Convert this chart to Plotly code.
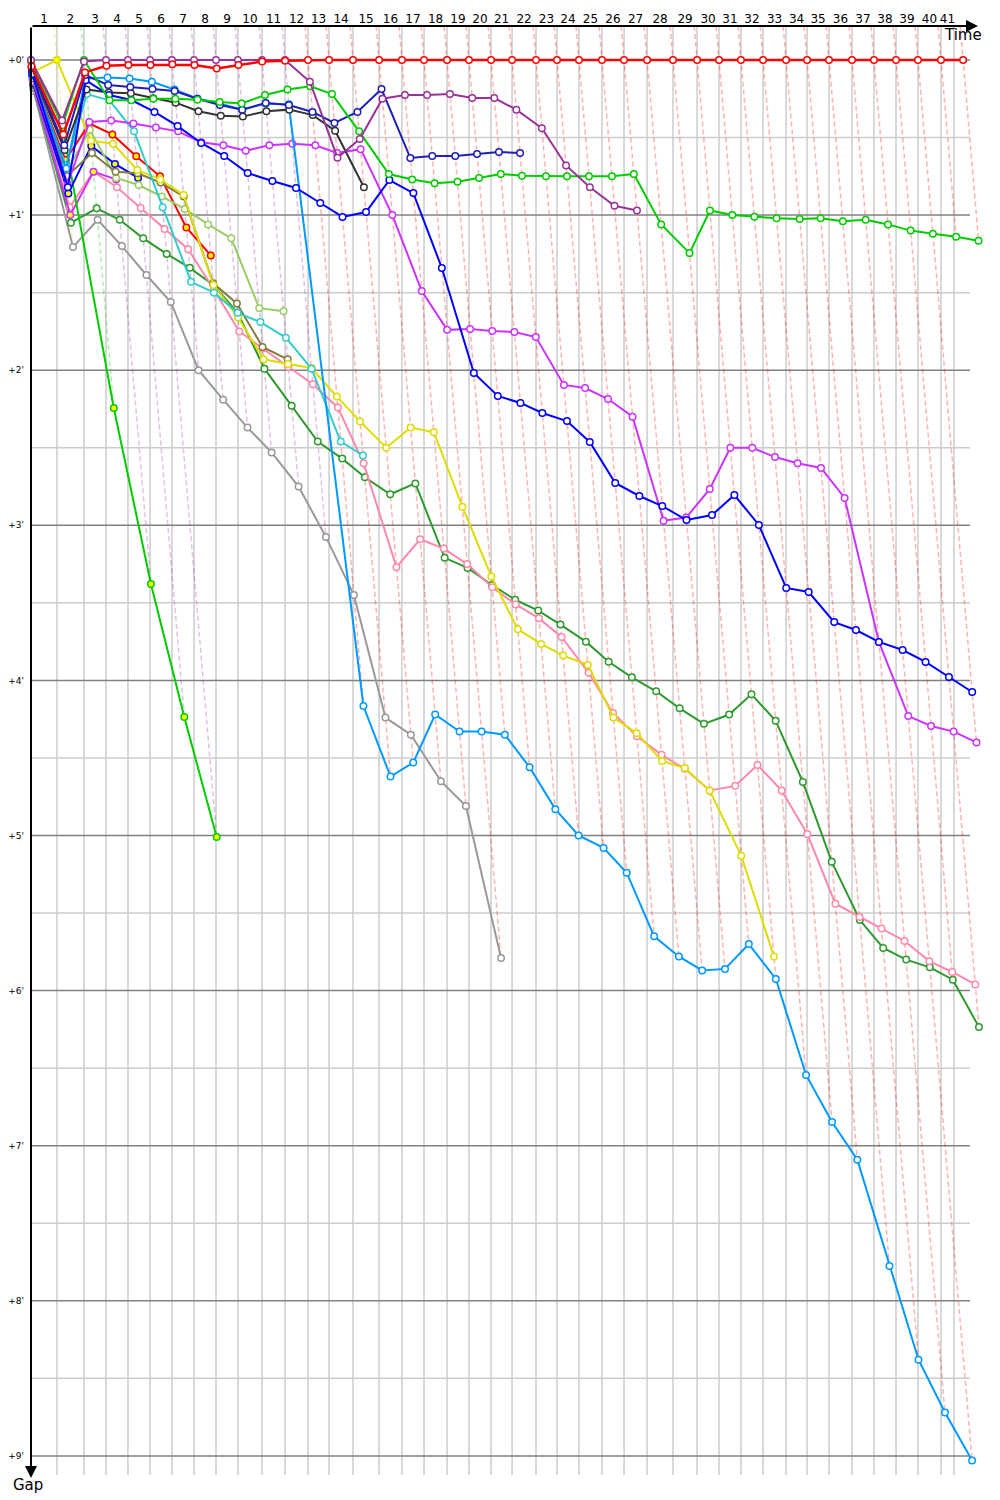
import plotly.graph_objects as go

# Leader's cumulative race time (minutes) at the end of each lap (lap 0..41)
leader_time = [0.00, 1.95, 3.98, 5.64, 7.29, 8.95, 10.60, 12.26, 13.91, 15.56,
               17.37, 19.10, 20.83, 22.41, 24.21, 26.17, 27.89, 29.55, 31.28, 32.93,
               34.59, 36.17, 37.97, 39.55, 41.20, 42.93, 44.59, 46.32, 48.27, 50.08,
               51.73, 53.38, 55.04, 56.77, 58.35, 60.00, 61.73, 63.38, 65.04, 66.69,
               68.42, 70.08]
# lap boundary marks on the time axis (vertical grid) and lap labels
lap_marks = [1.95, 3.98, 5.64, 7.29, 8.95, 10.60, 12.26, 13.91, 15.56, 17.37,
             19.10, 20.83, 22.41, 24.21, 26.17, 27.89, 29.55, 31.28, 32.93, 34.59,
             36.17, 37.97, 39.55, 41.20, 42.93, 44.59, 46.32, 48.27, 50.08, 51.73,
             53.38, 55.04, 56.77, 58.35, 60.00, 61.73, 63.38, 65.04, 66.69, 68.42, 69.40]
lap_labels = [str(i) for i in range(1, 42)]
gap_ticks = [0, 1, 2, 3, 4, 5, 6, 7, 8, 9]
gap_labels = ["+%d'" % g for g in gap_ticks]

# Gap to leader (minutes) per lap, starting at lap 0
gap_red = [0.04, 0.48, 0.08, 0.037, 0.032, 0.032, 0.028, 0.032, 0.054, 0.032, 0.01, 0.005] + [0.0] * 30
gap_purple = [0.0, 0.39, 0.01, 0, 0, 0, 0, 0, 0, 0, 0, 0, 0.14, 0.63, 0.51, 0.25, 0.226, 0.226,
              0.219, 0.245, 0.245, 0.32, 0.44, 0.68, 0.82, 0.94, 0.97]
gap_green = [0.01, 0.42, 0.0, 0.26, 0.26, 0.25, 0.25, 0.256, 0.27, 0.28, 0.226, 0.19, 0.17, 0.22,
             0.46, 0.735, 0.77, 0.795, 0.785, 0.76, 0.735, 0.746, 0.75, 0.75, 0.75, 0.75, 0.735,
             1.06, 1.245, 0.97, 1.0, 1.01, 1.02, 1.025, 1.02, 1.04, 1.03, 1.06, 1.1, 1.12, 1.14, 1.165]
gap_navy = [0.05, 0.55, 0.097, 0.161, 0.174, 0.187, 0.2, 0.25, 0.29, 0.32, 0.277, 0.29, 0.335,
            0.406, 0.335, 0.187, 0.632, 0.619, 0.619, 0.606, 0.593, 0.6]
gap_blue = [0.09, 0.82, 0.13, 0.226, 0.258, 0.335, 0.426, 0.535, 0.619, 0.729, 0.78, 0.825, 0.922,
            1.012, 0.98, 0.774, 0.858, 1.341, 2.018, 2.166, 2.211, 2.276, 2.328, 2.463, 2.727,
            2.811, 2.876, 2.966, 2.934, 2.805, 2.998, 3.404, 3.43, 3.624, 3.675, 3.752, 3.804,
            3.881, 3.978, 4.075]
gap_black = [0.07, 0.58, 0.19, 0.21, 0.215, 0.247, 0.275, 0.33, 0.36, 0.365, 0.33, 0.32, 0.355,
             0.456, 0.82]
gap_lightblue = [0.1, 0.7, 0.12, 0.113, 0.12, 0.14, 0.19, 0.25, 0.28, 0.32, 0.28, 0.286, 4.165,
                 4.62, 4.53, 4.22, 4.33, 4.33, 4.35, 4.56, 4.83, 5.0, 5.08, 5.24, 5.65, 5.78, 5.87,
                 5.86, 5.70, 5.925, 6.544, 6.847, 7.09, 7.776, 8.38, 8.72, 9.03]
gap_violet = [0.12, 0.8, 0.40, 0.39, 0.41, 0.435, 0.46, 0.53, 0.55, 0.585, 0.55, 0.54, 0.55, 0.6,
              0.575, 1.0, 1.49, 1.74, 1.735, 1.747, 1.754, 1.786, 2.095, 2.115, 2.186, 2.3, 2.97,
              2.95, 2.766, 2.5, 2.50, 2.56, 2.6, 2.63, 2.824, 3.752, 4.23, 4.294, 4.33, 4.40]
gap_cyan = [0.11, 0.68, 0.22, 0.26, 0.46, 0.95, 1.43, 1.50, 1.63, 1.69, 1.79, 1.99, 2.46, 2.55]
gap_yellow = [0.08, 0.0, 0.52, 0.54, 0.71, 0.77, 0.87, 1.45, 1.66, 1.93, 1.96, 1.986, 2.17, 2.33,
              2.5, 2.37, 2.4, 2.88, 3.33, 3.67, 3.765, 3.84, 3.9, 4.24, 4.34, 4.52, 4.565, 4.71,
              5.13, 5.78]
gap_olive = [0.14, 0.75, 0.6, 0.72, 0.73, 0.79, 0.88, 1.44, 1.57, 1.85, 1.93]
gap_yellowgreen = [0.13, 0.72, 0.45, 0.76, 0.806, 0.88, 0.96, 1.06, 1.15, 1.6, 1.62]
gap_red2 = [0.1, 0.645, 0.41, 0.48, 0.62, 0.75, 1.08, 1.26]
gap_blue2 = [0.15, 0.86, 0.554, 0.67, 0.76]
gap_pink = [0.17, 0.95, 0.72, 0.82, 0.955, 1.09, 1.22, 1.48, 1.75, 1.86, 1.98, 2.09, 2.24, 2.6,
            3.27, 3.09, 3.15, 3.25, 3.4, 3.51, 3.6, 3.72, 3.95, 4.21, 4.36, 4.48, 4.57, 4.71,
            4.68, 4.545, 4.71, 4.99, 5.44, 5.525, 5.6, 5.68, 5.81, 5.88, 5.96]
gap_darkgreen = [0.18, 1.05, 0.956, 1.03, 1.15, 1.25, 1.34, 1.45, 1.63, 1.99, 2.23, 2.46, 2.57,
                 2.69, 2.8, 2.73, 3.21, 3.275, 3.385, 3.48, 3.55, 3.64, 3.75, 3.88, 3.98, 4.07,
                 4.18, 4.28, 4.22, 4.09, 4.26, 4.655, 5.17, 5.545, 5.725, 5.8, 5.85, 5.93, 6.235]
gap_gray = [0.2, 1.206, 1.03, 1.2, 1.386, 1.56, 2.0, 2.19, 2.37, 2.53, 2.75, 3.075, 3.45, 4.24,
            4.35, 4.65, 4.81, 5.79]
gap_green2 = [0.16, 0.45, 2.244, 3.378, 4.236, 5.01]
gap_violet2 = [0.16, 1.0, 0.72, 0.77]

# (gaps, line colour, marker fill) -- drawn in this order (last on top)
drivers = [
    (gap_gray, "#999999", "white"),
    (gap_darkgreen, "#2e9a2e", "white"),
    (gap_pink, "#ff88aa", "white"),
    (gap_violet2, "#cc33ff", "#ffff00"),
    (gap_green2, "#00cc00", "#ffff00"),
    (gap_blue2, "#0000ff", "#ffff00"),
    (gap_red2, "#ff0000", "#ffff00"),
    (gap_yellowgreen, "#99cc66", "white"),
    (gap_olive, "#857a3d", "white"),
    (gap_yellow, "#dddd00", "white"),
    (gap_cyan, "#33cccc", "white"),
    (gap_violet, "#cc33ff", "white"),
    (gap_lightblue, "#0099ff", "white"),
    (gap_black, "#333333", "white"),
    (gap_blue, "#0000ff", "white"),
    (gap_navy, "#1f1fb4", "white"),
    (gap_green, "#00cc00", "white"),
    (gap_purple, "#993399", "white"),
    (gap_red, "#ff0000", "white"),
]

PX_X = 13.3      # pixels per minute on time axis
PX_Y = 155.1     # pixels per minute on gap axis
PLOT_W, PLOT_H = 959, 1449
y_top = -34 / PX_Y
y_bot = y_top + PLOT_H / PX_Y
x_max = PLOT_W / PX_X
grid_right = 939 / PX_X


def light(hexcol, a=0.3):
    h = hexcol.lstrip("#")
    r, g, b = int(h[0:2], 16), int(h[2:4], 16), int(h[4:6], 16)
    return "rgba(%d,%d,%d,%.2f)" % (r, g, b, a)


fig = go.Figure()

# dashed lines joining every driver's crossing of the same lap
for k in range(1, len(leader_time)):
    pts = []
    for gaps, col, _ in drivers:
        if len(gaps) > k:
            pts.append((gaps[k], col))
    pts.sort(key=lambda p: p[0])
    lead_col = pts[0][1]
    xs = [leader_time[k] + y_top] + [leader_time[k] + g for g, _ in pts]
    ys = [y_top] + [g for g, _ in pts]
    fig.add_trace(go.Scatter(x=xs, y=ys, mode="lines",
                             line=dict(color=light(lead_col), width=1.5, dash="5px,3px"),
                             hoverinfo="skip"))

for gaps, col, fill in drivers:
    n = len(gaps)
    xs = [leader_time[i] + gaps[i] for i in range(n)]
    fills = [fill] * n
    if col == "#dddd00":
        fills[0] = "#ffff00"
        fills[1] = "#ffff00"
    width = 2.5 if gaps is gap_red else 2
    fig.add_trace(go.Scatter(x=xs, y=gaps, mode="lines+markers",
                             line=dict(color=col, width=width),
                             marker=dict(symbol="circle", size=6.5, color=fills,
                                         line=dict(color=col, width=1.5)),
                             cliponaxis=False, hoverinfo="skip"))

shapes = []
for m in lap_marks:
    shapes.append(dict(type="line", xref="x", yref="paper", x0=m, x1=m, y0=0, y1=1,
                       line=dict(color="#cccccc", width=1.5), layer="below"))
for i in range(19):
    g = i * 0.5
    major = (i % 2 == 0)
    shapes.append(dict(type="line", xref="x", yref="y", x0=0, x1=grid_right, y0=g, y1=g,
                       line=dict(color="#808080" if major else "#cccccc", width=1.5),
                       layer="below"))

bounds = [0.0] + lap_marks
mids = [(bounds[i] + bounds[i + 1]) / 2 for i in range(len(lap_marks))]

# page has an 8px body margin: plot area spans page px 31..990 x 26..1475
L, T = 23, 18
FIG_W, FIG_H = 992, 1492

annotations = [
    dict(x=(978 - 31) / PLOT_W, y=1, xref="paper", yref="paper", text="", showarrow=True,
         ax=-(978 - 31), ay=0, arrowhead=2, arrowsize=1.2, arrowwidth=2, arrowcolor="black"),
    dict(x=0, y=-(1478 - 1475) / PLOT_H, xref="paper", yref="paper", text="", showarrow=True,
         ax=0, ay=-(1478 - 26), arrowhead=2, arrowsize=1.2, arrowwidth=2, arrowcolor="black"),
    dict(x=(942 - 31) / PLOT_W, y=(1475 - 35) / PLOT_H, xref="paper", yref="paper", text="Time",
         showarrow=False, xanchor="left", yanchor="middle",
         font=dict(family="DejaVu Sans", size=15, color="black")),
    dict(x=(11 - 31) / PLOT_W, y=(1475 - 1485) / PLOT_H, xref="paper", yref="paper", text="Gap",
         showarrow=False, xanchor="left", yanchor="middle",
         font=dict(family="DejaVu Sans", size=15, color="black")),
]

fig.update_layout(
    width=FIG_W, height=FIG_H,
    margin=dict(l=L, r=FIG_W - L - PLOT_W, t=T, b=FIG_H - T - PLOT_H, autoexpand=False),
    plot_bgcolor="white", paper_bgcolor="white",
    showlegend=False, hovermode=False,
    shapes=shapes, annotations=annotations,
    xaxis=dict(range=[0, x_max], side="top", tickvals=mids, ticktext=lap_labels,
               showgrid=False, zeroline=False, showline=False, ticks="", automargin=False,
               tickfont=dict(family="DejaVu Sans", size=12, color="black")),
    yaxis=dict(range=[y_bot, y_top], tickvals=gap_ticks, ticktext=gap_labels,
               showgrid=False, zeroline=False, showline=False, ticks="", automargin=False,
               ticklabelstandoff=6,
               tickfont=dict(family="DejaVu Sans", size=9, color="black")),
)

fig.write_html("out.html")
